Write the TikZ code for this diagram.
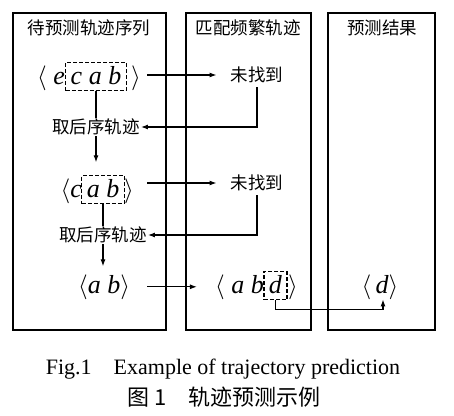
\documentclass[tikz,border=0pt]{standalone}
\usepackage{fontspec}
\setmainfont{Liberation Serif}
\newfontfamily\cjk{Noto Sans CJK SC}
\usetikzlibrary{arrows.meta}
\begin{document}
\begin{tikzpicture}[x=1pt, y=-1pt,
		lane/.style={draw, line width=1.3pt},
		seq/.style={inner sep=0pt, font=\fontsize{26}{28}\selectfont},
		subseq/.style={seq, draw, line width=1.4pt, dash pattern=on 4pt off 2pt, inner xsep=5pt, inner ysep=4.5pt, text height=17pt, text depth=2pt},
		note/.style={inner sep=1pt, font=\cjk\fontsize{17.5}{19}\selectfont},
		flow/.style={line width=1.1pt, -{Latex[length=7pt, width=5pt]}}]
		\useasboundingbox (0,0) rectangle (454,415);
		% three columns
		\draw[lane] (13,13) rectangle (166,330);
		\draw[lane] (186,13) rectangle (311,330);
		\draw[lane] (328,13) rectangle (435,330);
		\node[note] (t1) at (89,28) {待预测轨迹序列};
		\node[note] (t2) at (248,28) {匹配频繁轨迹};
		\node[note] (t3) at (382,28) {预测结果};
		% first try
		\node[seq, anchor=base east] (e1) at (65,84) {$\langle$\ \textit{e}};
		\node[subseq, anchor=base] (s1) at (96,84) {\textit{c a b}};
		\node[seq, anchor=base west] (c1) at (128,84) {\hspace{3pt}$\rangle$};
		\node[note] (n1) at (257,75) {未找到};
		\draw[flow, shorten <=6pt, shorten >=13pt] (n1.west -| c1.east) -- (n1.west);
		\node[note] (q1) at (96,127) {取后序轨迹};
		\draw[line width=1.1pt] (s1.south) -- (q1.north);
		\draw[flow, shorten <=3pt] (n1.south) |- (q1.east);
		\draw[flow] (q1.south) -- ++(0,26);
		% second try
		\node[seq, anchor=base east] (e2) at (82,197) {$\langle$\textit{c}};
		\node[subseq, anchor=base] (s2) at (103,197) {\textit{a b}};
		\node[seq, anchor=base west] (c2) at (124,197) {$\rangle$};
		\node[note] (n2) at (257,183) {未找到};
		\draw[flow, shorten <=13pt, shorten >=13pt] (n2.west -| c2.east) -- (n2.west);
		\node[note] (q2) at (103,235) {取后序轨迹};
		\draw[line width=1.1pt] (s2.south) -- (q2.north);
		\draw[flow, shorten <=3pt] (n2.south) |- (q2.east);
		\draw[flow] (q2.south) -- ++(0,22);
		% third try, found
		\node[seq, anchor=base] (r3) at (104,293) {$\langle$\textit{a b}$\rangle$};
		\node[seq, anchor=base east] (m3) at (264,293) {$\langle$\ \textit{a b}};
		\node[subseq, anchor=base] (d3) at (275.5,293) {\textit{d}};
		\node[seq, anchor=base west] (k3) at (287,293) {\hspace{1pt}$\rangle$};
		\node[seq, anchor=base] (res) at (380,293) {$\langle$\,\textit{d}$\rangle$};
		\draw[flow, shorten <=17pt, shorten >=18pt] (r3.east) -- (r3.east -| m3.west);
		\draw[flow] (d3.south) -- ++(0,9) -| ([xshift=3pt]res.south);
		% caption
		\node[font=\fontsize{22}{24}\selectfont] (cap1) at (223,369) {Fig.1\hspace{1em}Example of trajectory prediction};
		\node[font=\cjk\fontsize{22}{24}\selectfont] (cap2) at (224,397) {图 1\hspace{1em}轨迹预测示例};
	\end{tikzpicture}
\end{document}
